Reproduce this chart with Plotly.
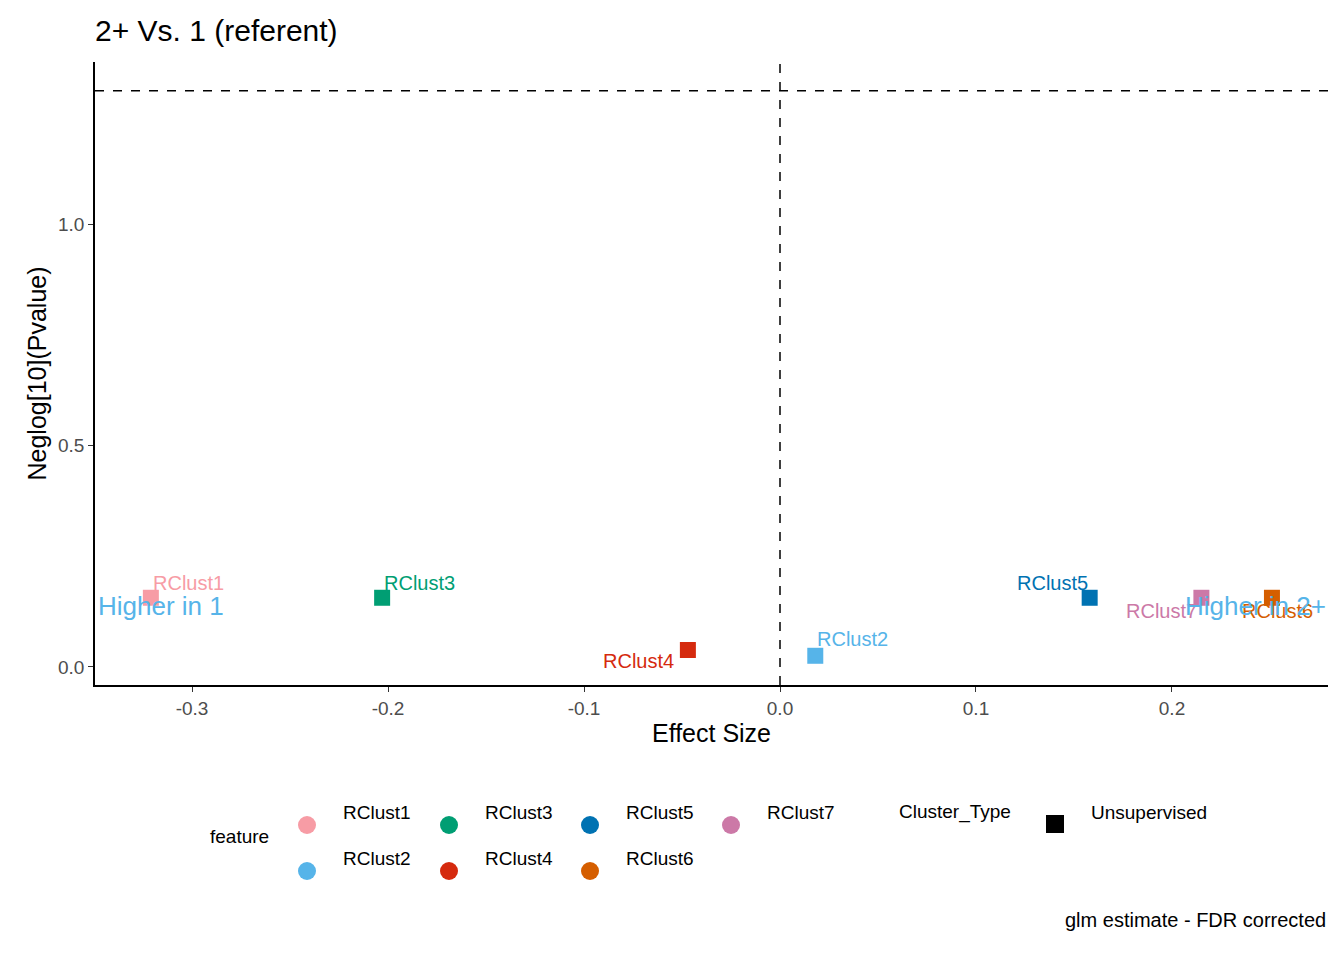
import plotly.graph_objects as go

features = ["RClust1", "RClust2", "RClust3", "RClust4", "RClust5", "RClust6", "RClust7"]
effect = [-0.321, 0.018, -0.203, -0.047, 0.158, 0.251, 0.215]
neglogp = [0.156, 0.025, 0.156, 0.038, 0.156, 0.156, 0.156]
colors = ["#F79CA5", "#56B4E9", "#009E73", "#D52A0E", "#0072B2", "#D55E00", "#CC79A7"]
# label offset direction (xanchor, yanchor, dx, dy)
label_pos = {
    "RClust1": ("left", "bottom", 0, 2),
    "RClust2": ("left", "bottom", 0, 4),
    "RClust3": ("left", "bottom", 0, 2),
    "RClust4": ("right", "top", -12, 2),
    "RClust5": ("right", "bottom", 0, 2),
    "RClust6": ("center", "top", 6, 0),
    "RClust7": ("right", "top", -2, 0),
}

fig = go.Figure()
for f, x, y, c in zip(features, effect, neglogp, colors):
    fig.add_trace(go.Scatter(x=[x], y=[y], mode="markers", name=f, showlegend=False,
                             marker=dict(symbol="square", size=16, color=c)))
    xa, ya, dx, dy = label_pos[f]
    fig.add_annotation(x=x, y=y, text=f, showarrow=False, xanchor=xa, yanchor=ya,
                       xshift=dx, yshift=dy, font=dict(size=20, color=c))

fig.add_annotation(x=-0.349, y=0.137, text="Higher in 1", showarrow=False, xanchor="left",
                   font=dict(size=26, color="#56B4E9"))
fig.add_annotation(x=0.2796, y=0.137, text="Higher in 2+", showarrow=False, xanchor="right",
                   font=dict(size=26, color="#56B4E9"))

fig.add_vline(x=0, line=dict(color="black", dash="dash", width=1.5))
fig.add_hline(y=1.301, line=dict(color="black", dash="dash", width=1.5))

# legend drawn manually below the plot (page pixel positions -> paper coords)
W, H = 1233, 623
fig.add_annotation(xref="paper", yref="paper", x=(208 - 95) / W, y=-(849 - 685) / H,
                   text="feature", showarrow=False, xanchor="left", font=dict(size=19, color="black"))
leg = [("RClust1", 307, 825), ("RClust3", 449, 825), ("RClust5", 590, 825), ("RClust7", 731, 825),
       ("RClust2", 307, 871), ("RClust4", 449, 871), ("RClust6", 590, 871)]
cmap = dict(zip(features, colors))
for name, px_, py_ in leg:
    xp = (px_ - 95) / W
    yp = (685 - py_) / H
    fig.add_shape(type="circle", xref="paper", yref="paper", x0=xp - 9 / W, x1=xp + 9 / W,
                  y0=yp - 9 / H, y1=yp + 9 / H, fillcolor=cmap[name], line=dict(width=0))
    fig.add_annotation(xref="paper", yref="paper", x=(px_ + 34 - 95) / W, y=yp, text=name,
                       showarrow=False, xanchor="left", font=dict(size=19, color="black"))
fig.add_annotation(xref="paper", yref="paper", x=(897 - 95) / W, y=(685 - 825) / H,
                   text="Cluster_Type", showarrow=False, xanchor="left", font=dict(size=19, color="black"))
fig.add_shape(type="rect", xref="paper", yref="paper", x0=(1046 - 95) / W, x1=(1064 - 95) / W,
              y0=(685 - 833) / H, y1=(685 - 815) / H, fillcolor="black", line=dict(width=0))
fig.add_annotation(xref="paper", yref="paper", x=(1089 - 95) / W, y=(685 - 825) / H,
                   text="Unsupervised", showarrow=False, xanchor="left", font=dict(size=19, color="black"))
fig.add_annotation(xref="paper", yref="paper", x=1.0, y=(685 - 933) / H, text="glm estimate - FDR corrected",
                   showarrow=False, xanchor="right", font=dict(size=20, color="black"))

axis_common = dict(showgrid=False, zeroline=False, showline=True, linecolor="black", linewidth=1.5,
                   ticks="outside", ticklen=5, tickcolor="#333", tickfont=dict(size=19, color="#4d4d4d"),
                   title_font=dict(size=25, color="black"))
fig.update_xaxes(range=[-0.3495, 0.2796], tickvals=[-0.3, -0.2, -0.1, 0.0, 0.1, 0.2],
                 ticktext=["-0.3", "-0.2", "-0.1", "0.0", "0.1", "0.2"], title_text="Effect Size",
                 title_standoff=4, **axis_common)
fig.update_yaxes(range=[-0.041, 1.366], tickvals=[0, 0.5, 1.0], ticktext=["0.0", "0.5", "1.0"],
                 title_text="Neglog[10](Pvalue)", title_standoff=4, **axis_common)

fig.update_layout(
    width=1344, height=960, plot_bgcolor="white", paper_bgcolor="white",
    font=dict(family="Liberation Sans, Arial", color="black"),
    title=dict(text="2+ Vs. 1 (referent)", x=87 / 1344, xanchor="left", y=1 - 22 / 960,
               yanchor="middle", font=dict(size=30)),
    margin=dict(l=87, r=24, t=54, b=283),
)

fig.write_html("out.html")
